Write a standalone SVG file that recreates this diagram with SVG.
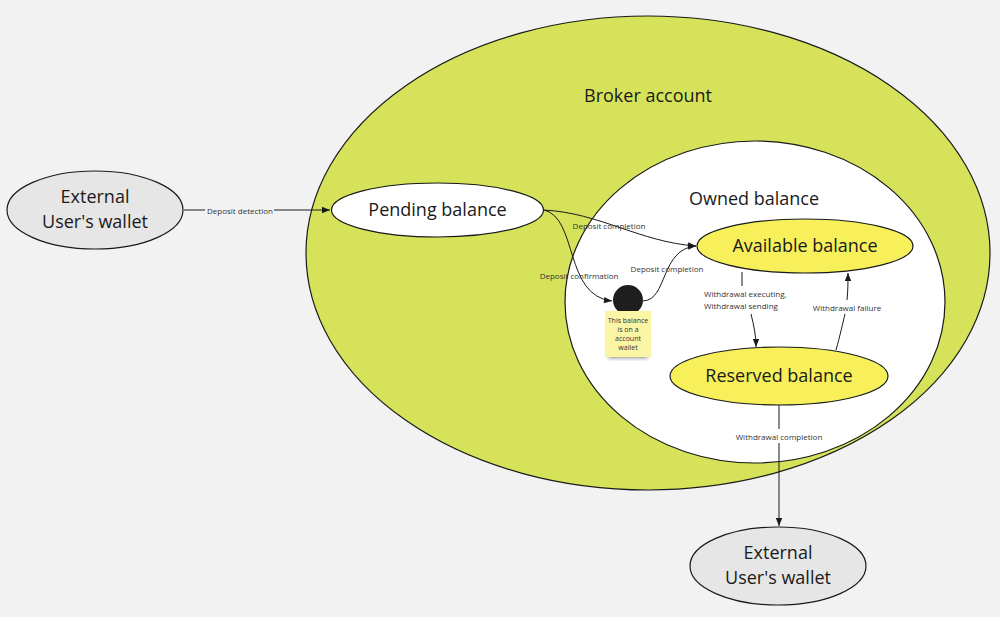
<svg xmlns="http://www.w3.org/2000/svg" width="1000" height="617" viewBox="0 0 1000 617">
<defs>
<marker id="arr" viewBox="0 0 10 10" refX="10" refY="5" markerWidth="10" markerHeight="8" markerUnits="userSpaceOnUse" orient="auto">
<path d="M0,1 L10,5 L0,9 Z" fill="#1a1a1a"/>
</marker>
<filter id="sh" x="-30%" y="-30%" width="160%" height="180%">
<feGaussianBlur stdDeviation="2"/>
</filter>
<style>
.node{stroke:#1a1a1a;stroke-width:1.2}
.big{font-family:"Open Sans","Liberation Sans",sans-serif;font-size:18px;fill:#1a1a1a;text-anchor:middle;dominant-baseline:central}
.lbl{font-family:"Open Sans","Liberation Sans",sans-serif;font-size:8px;fill:#333;text-anchor:middle;dominant-baseline:central}
.edge{fill:none;stroke:#1a1a1a;stroke-width:1}
</style>
</defs>
<rect width="1000" height="617" fill="#f2f2f2"/>
<g id="broker">
<ellipse class="node" cx="648" cy="253" rx="342" ry="237" fill="#d6e35a"/>
<text class="big" x="648" y="95">Broker account</text>
</g>
<g id="owned">
<ellipse class="node" cx="755" cy="302" rx="190" ry="161" fill="#ffffff"/>
<text class="big" x="754" y="198">Owned balance</text>
</g>
<g id="connectors">
<line class="edge" x1="184" y1="210" x2="205" y2="210"/>
<line class="edge" x1="274" y1="210" x2="330" y2="210" marker-end="url(#arr)"/>
<path class="edge" d="M544,210 C600,213 640,242 696,246" marker-end="url(#arr)"/>
<path class="edge" d="M544,210 C578,218 564,296 612,301" marker-end="url(#arr)"/>
<path class="edge" d="M643,301 C668,300 660,249 696,246" marker-end="url(#arr)"/>
<path class="edge" d="M742,272 L742,286"/>
<path class="edge" d="M751,314 C754,326 756,336 756,347" marker-end="url(#arr)"/>
<path class="edge" d="M836,350 C840,336 843,322 845,314"/>
<path class="edge" d="M847,300 C848,290 848,282 848,273" marker-end="url(#arr)"/>
<line class="edge" x1="779" y1="404" x2="779" y2="429"/>
<line class="edge" x1="779" y1="443" x2="779" y2="526" marker-end="url(#arr)"/>
<text class="lbl" x="240" y="210">Deposit detection</text>
<text class="lbl" x="609" y="225">Deposit completion</text>
<text class="lbl" x="579" y="275">Deposit confirmation</text>
<text class="lbl" x="667" y="268">Deposit completion</text>
<text class="lbl" x="704" y="293" style="text-anchor:start">Withdrawal executing,</text>
<text class="lbl" x="704" y="305" style="text-anchor:start">Withdrawal sending</text>
<text class="lbl" x="847" y="307">Withdrawal failure</text>
<text class="lbl" x="779" y="436">Withdrawal completion</text>
</g>
<g id="ext-left">
<ellipse class="node" cx="95" cy="210" rx="88" ry="39" fill="#e6e6e6"/>
<text class="big" x="95" y="196">External</text>
<text class="big" x="95" y="221">User's wallet</text>
</g>
<g id="pending">
<ellipse class="node" cx="437.5" cy="210" rx="106" ry="27" fill="#ffffff"/>
<text class="big" x="437.5" y="209">Pending balance</text>
</g>
<g id="available">
<ellipse class="node" cx="805" cy="246" rx="108" ry="27" fill="#f7f05a"/>
<text class="big" x="805" y="245">Available balance</text>
</g>
<g id="reserved">
<ellipse class="node" cx="779" cy="376" rx="109" ry="29" fill="#f7f05a"/>
<text class="big" x="779" y="375">Reserved balance</text>
</g>
<g id="account-wallet">
<circle cx="628" cy="300" r="15" fill="#1e1e1e"/>
</g>
<g id="note">
<rect x="608" y="352" width="40" height="6" fill="#000" opacity="0.45" filter="url(#sh)"/>
<rect x="605" y="311" width="46" height="46" fill="#fbf5a6"/>
<text class="lbl" style="font-size:7px" x="628" y="320">This balance</text>
<text class="lbl" style="font-size:7px" x="628" y="329">is on a</text>
<text class="lbl" style="font-size:7px" x="628" y="338">account</text>
<text class="lbl" style="font-size:7px" x="628" y="347">wallet</text>
</g>
<g id="ext-bottom">
<ellipse class="node" cx="778" cy="566" rx="88" ry="39" fill="#e6e6e6"/>
<text class="big" x="778" y="552">External</text>
<text class="big" x="778" y="577">User's wallet</text>
</g>
</svg>
